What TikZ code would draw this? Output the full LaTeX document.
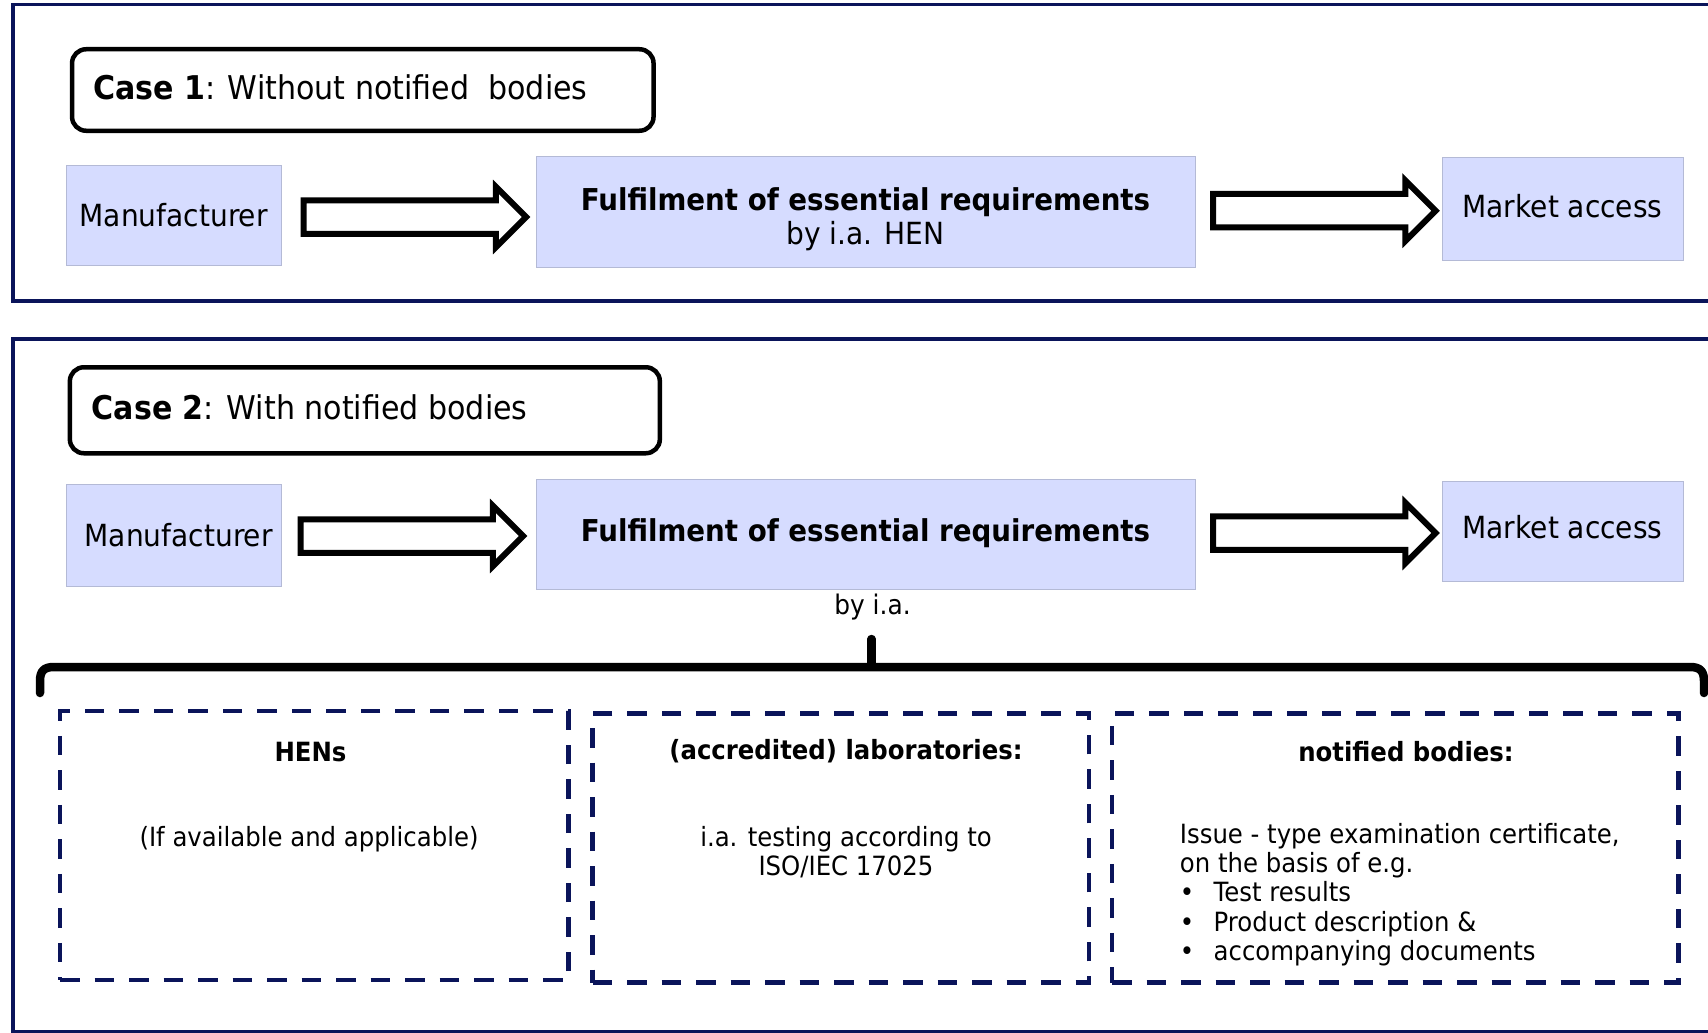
\documentclass[tikz,border=0pt]{standalone}
\usepackage{fontspec}
\setmainfont{DejaVu Sans}[FakeStretch=0.92]
\usetikzlibrary{shapes.arrows,calc}
\definecolor{navy}{RGB}{10,20,90}
\definecolor{boxfill}{RGB}{214,220,255}
\definecolor{boxline}{RGB}{180,186,214}
\newcommand\szTop{\fontsize{30.5}{34}\selectfont}
\newcommand\szHead{\fontsize{30.1}{34}\selectfont}
\newcommand\szCase{\fontsize{32.7}{38}\selectfont}
\newcommand\szLow{\fontsize{26.5}{29.3}\selectfont}
\begin{document}
\begin{tikzpicture}[x=1pt,y=-1pt,
  frame/.style={draw=navy,line width=3.5pt},
  casebox/.style={draw=black,line width=4.5pt,rounded corners=14pt,anchor=north west},
  pbox/.style={fill=boxfill,draw=boxline,line width=0.8pt,inner sep=0pt},
  lbl/.style={inner sep=0pt,font=\szTop,align=center},
  blockarrow/.style={shape=single arrow,draw=black,fill=white,line width=6pt,inner sep=0pt,
    single arrow head extend=13.5pt,minimum height=222.5pt,anchor=tail},
  dashbox/.style={draw=navy,line width=4.5pt,dash pattern=on 19.5pt off 15pt,inner sep=0pt},
  brace/.style={draw=black,line width=8.5pt,line cap=round,line join=round},
  txt/.style={inner sep=0pt,font=\szLow,align=center}
]
\useasboundingbox (0,0) rectangle (1708,1033);
\clip (0,0) rectangle (1708,1033);

% outer frames of the two cases
\draw[frame] (13,4.5) rectangle (1730,301);
\draw[frame] (13,339) rectangle (1730,1031.5);

% ---------- Case 1 ----------
\node[casebox,minimum width=581.5pt,minimum height=81.5pt] (c1) at (69.8,47) {};
\node[anchor=west,inner sep=0pt,font=\szCase] (c1t) at ($(c1.west)+(23,-2.5)$) {\textbf{Case 1}: Without notified\ \ bodies};

\node[pbox,minimum width=214.6pt,minimum height=100.2pt] (m1) at (173.7,215.7) {};
\node[lbl] (m1t) at ($(m1.center)+(0,-1)$) {Manufacturer};
\node[pbox,minimum width=659pt,minimum height=111pt] (f1) at (865.5,211.4) {};
\node[lbl] (f1t) at ($(f1.center)+(0,8)$) {{\szHead\textbf{Fulfilment of essential requirements}}\\by i.a. HEN};
\node[pbox,minimum width=241pt,minimum height=103pt] (ma1) at (1562.5,208.5) {};
\node[lbl] (ma1t) at ($(ma1.center)+(0,-2)$) {Market access};

\node[blockarrow] (a1) at ($(m1.east)+(19.3,1.3)$) {\rule{0pt}{27.5pt}};
\node[blockarrow] (a2) at ($(f1.east)+(14.7,-0.7)$) {\rule{0pt}{27.5pt}};

% ---------- Case 2 ----------
\node[casebox,minimum width=590pt,minimum height=86pt] (c2) at (67.6,365) {};
\node[anchor=west,inner sep=0pt,font=\szCase] (c2t) at ($(c2.west)+(24,-2.5)$) {\textbf{Case 2}: With notified bodies};

\node[pbox,minimum width=214.6pt,minimum height=101.3pt] (m2) at (173.7,535.4) {};
\node[lbl] (m2t) at ($(m2.center)+(5,0)$) {Manufacturer};
\node[pbox,minimum width=659pt,minimum height=110pt] (f2) at (865.5,534) {};
\node[lbl] (f2t) at ($(f2.center)+(0,-1)$) {\szHead\textbf{Fulfilment of essential requirements}};
\node[pbox,minimum width=241pt,minimum height=100pt] (ma2) at (1562.5,531.6) {};
\node[lbl] (ma2t) at ($(ma2.center)+(0,-4)$) {Market access};

\node[blockarrow] (a3) at ($(m2.east)+(16.3,0.6)$) {\rule{0pt}{27.5pt}};
\node[blockarrow] (a4) at ($(f2.east)+(14.7,-1)$) {\rule{0pt}{27.5pt}};

\node[txt,font=\fontsize{27}{30}\selectfont] (by) at ($(f2.south)+(7,18)$) {by i.a.};

% brace gathering the three routes
\coordinate (bl) at (40,693);
\coordinate (br) at (1704,693);
\coordinate (bt) at (871.5,639);
\draw[brace] (bl) -- ($(bl)+(0,-12)$) .. controls ($(bl)+(0,-22)$) and ($(bl)+(4,-26)$) .. ($(bl)+(14,-26)$)
  -- ($(br)+(-14,-26)$) .. controls ($(br)+(-4,-26)$) and ($(br)+(0,-22)$) .. ($(br)+(0,-12)$) -- (br);
\draw[brace] (bt) -- ($(bt)+(0,24)$);

% ---------- three routes ----------
\node[dashbox,minimum width=508.6pt,minimum height=269pt] (d1) at (314.3,845.5) {};
\node[dashbox,minimum width=496.4pt,minimum height=269pt] (d2) at (840.8,848) {};
\node[dashbox,minimum width=566.6pt,minimum height=269pt] (d3) at (1395.3,848) {};

\node[txt] (h1) at (310.5,751.6) {\textbf{HENs}};
\node[txt] (s1) at (309,838.8) {(If available and applicable)};

\node[txt] (h2) at (846,751.6) {\textbf{(accredited) laboratories:}};
\node[txt,anchor=north] (s2) at (846,826) {i.a. testing according to\\ISO/IEC 17025};

\node[txt] (h3) at (1406,751.6) {\textbf{notified bodies:}};
\node[txt,align=left,anchor=north west] (s3) at (1179.7,823) {Issue - type examination certificate,\\
  on the basis of e.g.\\
  \makebox[33.8pt][l]{•}Test results\\
  \makebox[33.8pt][l]{•}Product description \&\\
  \makebox[33.8pt][l]{•}accompanying documents};
\end{tikzpicture}
\end{document}
